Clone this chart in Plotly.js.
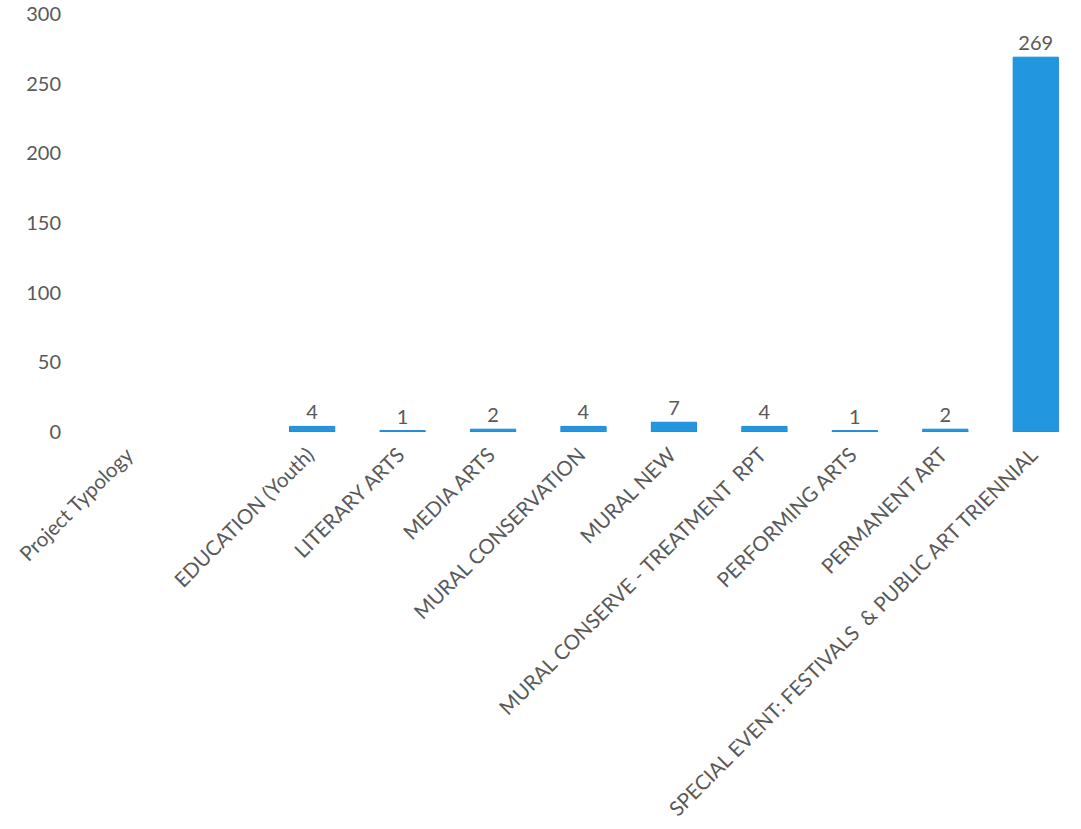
<!DOCTYPE html>
<html>
<head>
<meta charset="utf-8">
<script src="https://cdn.plot.ly/plotly-3.0.1.min.js"></script>
<style>html,body{margin:0;padding:0;background:#fff;}#chart{width:1081px;height:829px;}</style>
</head>
<body>
<div id="chart"></div>
<script>
const categories = ["Project Typology", " ", "EDUCATION (Youth)", "LITERARY ARTS", "MEDIA ARTS", "MURAL CONSERVATION", "MURAL NEW", "MURAL CONSERVE - TREATMENT  RPT", "PERFORMING ARTS", "PERMANENT ART", "SPECIAL EVENT: FESTIVALS  & PUBLIC ART TRIENNIAL"];
const counts = [null, null, 4, 1, 2, 4, 7, 4, 1, 2, 269];
const yTicks = [0, 50, 100, 150, 200, 250, 300];

const labels = counts.map(v => v === null ? "" : String(v));

const trace = {
  type: "bar",
  x: categories,
  y: counts,
  text: labels,
  textposition: "outside",
  cliponaxis: false,
  textfont: {family: "Lato, sans-serif", size: 20, color: "#595959"},
  marker: {color: "#2396E0", line: {color: "#1C8ADA", width: 1}},
  width: 0.5,
  hoverinfo: "x+y"
};

const layout = {
  width: 1081,
  height: 829,
  margin: {l: 86, r: 0, t: 14, b: 397, pad: 0},
  paper_bgcolor: "#ffffff",
  plot_bgcolor: "#ffffff",
  showlegend: false,
  font: {family: "Lato, sans-serif", color: "#595959"},
  xaxis: {
    type: "category",
    tickangle: -45,
    tickfont: {family: "Lato, sans-serif", size: 20.5, color: "#595959"},
    showgrid: false,
    showline: false,
    zeroline: false,
    ticks: "",
    ticklabelstandoff: 6,
    ticklabelshift: -4,
    automargin: false
  },
  yaxis: {
    range: [0, 300],
    tickvals: yTicks,
    ticktext: yTicks.map(String),
    tickfont: {family: "Lato, sans-serif", size: 20, color: "#595959"},
    showgrid: false,
    showline: false,
    zeroline: false,
    ticks: "",
    ticklabelstandoff: 24,
    automargin: false
  }
};

Plotly.newPlot("chart", [trace], layout, {displayModeBar: false, staticPlot: true});
</script>
</body>
</html>
